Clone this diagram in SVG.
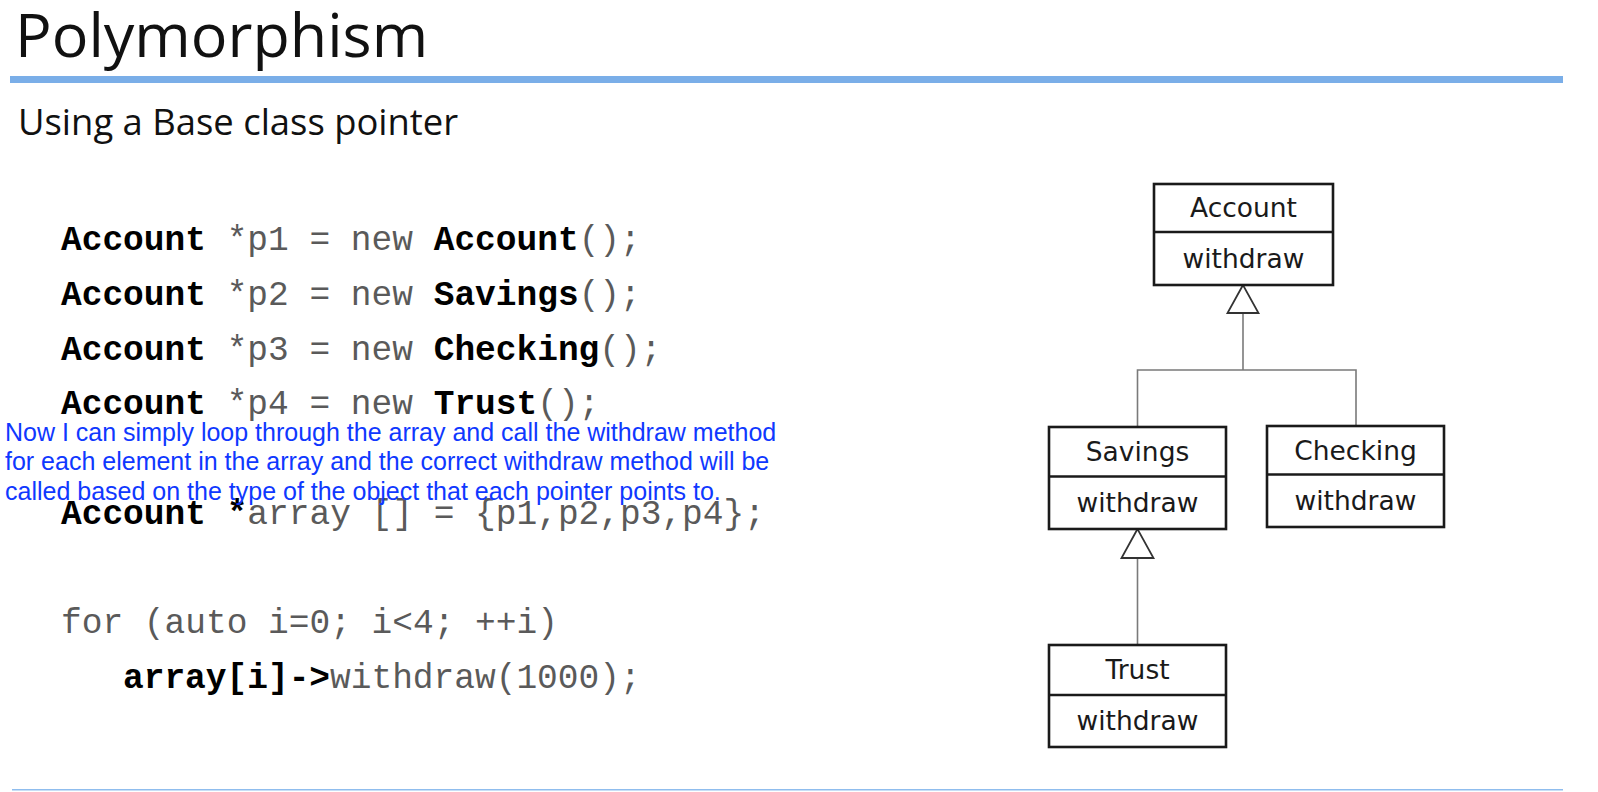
<svg xmlns="http://www.w3.org/2000/svg" width="1598" height="792" viewBox="0 0 1598 792">
<style>
.title{font-family:"Open Sans","Noto Sans",sans-serif;fill:#111}
.code{font-family:"Liberation Mono","Courier New",monospace;font-size:34.5px;fill:#5a5a5a}
.b{font-weight:bold;fill:#000}
.note{font-family:"Liberation Sans",Arial,sans-serif;font-size:25px;fill:#0f38ff}
.box{fill:#fff;stroke:#1a1a1a;stroke-width:2.6}
.div{stroke:#1a1a1a;stroke-width:2.6}
.lbl{font-family:"DejaVu Sans",sans-serif;font-size:26.5px;fill:#1a1a1a;text-anchor:middle}
.conn{fill:none;stroke:#7a7a7a;stroke-width:1.6}
.tri{fill:#fff;stroke:#333;stroke-width:1.8}
</style>
<rect width="1598" height="792" fill="#fff"/>
<g id="header">
<text class="title" x="15" y="57" font-size="61">Polymorphism</text>
<rect x="10" y="76" width="1553" height="7" fill="#7aaee8"/>
<text class="title" x="18" y="135" font-size="36.4">Using a Base class pointer</text>
<rect x="12" y="789" width="1551" height="1.5" fill="#8fbdee"/>
</g>
<g id="code">
<text class="code" x="61" y="250"><tspan class="b">Account</tspan> *p1 = new <tspan class="b">Account</tspan>();</text>
<text class="code" x="61" y="305"><tspan class="b">Account</tspan> *p2 = new <tspan class="b">Savings</tspan>();</text>
<text class="code" x="61" y="360"><tspan class="b">Account</tspan> *p3 = new <tspan class="b">Checking</tspan>();</text>
<text class="code" x="61" y="414"><tspan class="b">Account</tspan> *p4 = new <tspan class="b">Trust</tspan>();</text>
<text class="code" x="61" y="524"><tspan class="b">Account *</tspan>array [] = {p1,p2,p3,p4};</text>
<text class="code" x="61" y="633">for (auto i=0; i&lt;4; ++i)</text>
<text class="code" x="123" y="688"><tspan class="b">array[i]-&gt;</tspan>withdraw(1000);</text>
</g>
<g id="note">
<text class="note" x="5" y="441">Now I can simply loop through the array and call the withdraw method</text>
<text class="note" x="5" y="470">for each element in the array and the correct withdraw method will be</text>
<text class="note" x="5" y="500">called based on the type of the object that each pointer points to.</text>
</g>
<g id="connectors">
<polyline class="conn" points="1243,313 1243,370"/>
<polyline class="conn" points="1137.5,427 1137.5,370 1356,370 1356,426"/>
<polygon class="tri" points="1243,285 1227.5,313 1258.5,313"/>
<polyline class="conn" points="1137.5,558 1137.5,645"/>
<polygon class="tri" points="1137.5,529 1121.5,558 1153.5,558"/>
</g>
<g id="account">
<rect class="box" x="1154" y="184" width="179" height="101"/>
<line class="div" x1="1154" y1="232" x2="1333" y2="232"/>
<text class="lbl" x="1243.5" y="217">Account</text>
<text class="lbl" x="1243.5" y="268">withdraw</text>
</g>
<g id="savings">
<rect class="box" x="1049" y="427" width="177" height="102"/>
<line class="div" x1="1049" y1="476.5" x2="1226" y2="476.5"/>
<text class="lbl" x="1137.5" y="461">Savings</text>
<text class="lbl" x="1137.5" y="512">withdraw</text>
</g>
<g id="checking">
<rect class="box" x="1267" y="426" width="177" height="101"/>
<line class="div" x1="1267" y1="474.5" x2="1444" y2="474.5"/>
<text class="lbl" x="1355.5" y="460">Checking</text>
<text class="lbl" x="1355.5" y="510">withdraw</text>
</g>
<g id="trust">
<rect class="box" x="1049" y="645" width="177" height="102"/>
<line class="div" x1="1049" y1="695" x2="1226" y2="695"/>
<text class="lbl" x="1137.5" y="679">Trust</text>
<text class="lbl" x="1137.5" y="730">withdraw</text>
</g>
</svg>
